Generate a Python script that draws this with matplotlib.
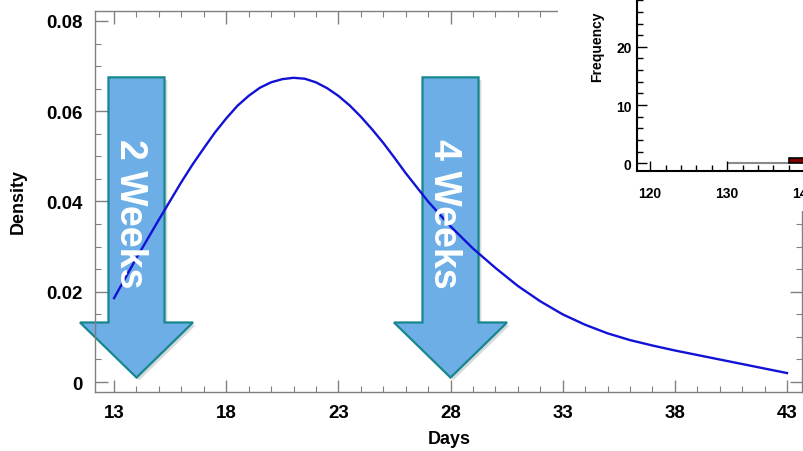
import numpy as np
import matplotlib
matplotlib.use("Agg")
import matplotlib.pyplot as plt
import matplotlib.patheffects as pe
from matplotlib.patches import Polygon, Rectangle
from matplotlib.ticker import MultipleLocator

# ---------------------------------------------------------------------------
# Data
# ---------------------------------------------------------------------------
days = [13, 14, 15, 16, 16.5, 17, 17.5, 18, 18.5, 19, 19.5, 20, 20.5, 21,
        21.5, 22, 22.5, 23, 23.5, 24, 24.5, 25, 25.5, 26, 27, 28,
        29, 30, 31, 32, 33, 34, 35, 36, 37, 38, 39, 40, 41, 42, 43]
density = [0.0186, 0.0275, 0.0360, 0.0443, 0.0482, 0.0518, 0.0553, 0.0584,
           0.0612, 0.0634, 0.0652, 0.0664, 0.0671, 0.0674, 0.0672, 0.0664,
           0.0651, 0.0634, 0.0613, 0.0588, 0.0560, 0.0530, 0.0497, 0.0463,
           0.0400, 0.0345, 0.0296, 0.0253, 0.0213, 0.0179, 0.0150, 0.0127,
           0.0108, 0.0093, 0.0081, 0.0070, 0.0060, 0.0050, 0.0040, 0.0030,
           0.0020]

x_ticks = [13, 18, 23, 28, 33, 38, 43]
y_ticks = [0, 0.02, 0.04, 0.06, 0.08]
y_tick_labels = ["0", "0.02", "0.04", "0.06", "0.08"]

arrow_days = [14, 28]
arrow_labels = ["2 Weeks", "4 Weeks"]

# inset histogram (only the visible part)
hist_edges = [130, 132, 134, 136, 138, 140]
hist_counts = [0, 0, 0, 0, 1, 4]
inset_x_ticks = [120, 130, 140]
inset_y_ticks = [0, 10, 20]

BOLD = "Liberation Sans"
GREY = "#808080"

fig = plt.figure(figsize=(8.04, 4.52), dpi=100)
fig.patch.set_facecolor("white")

# ---------------------------------------------------------------------------
# Main density plot
# ---------------------------------------------------------------------------
ax = fig.add_axes([95 / 804, 1 - 393 / 452, (802 - 95) / 804, (393 - 12) / 452])
ax.set_zorder(0)
ax.plot(days, density, color="#1212d6", lw=1.7, zorder=3,
        solid_joinstyle="round")

ax.set_xlim(12.15, 43.67)
ax.set_ylim(-0.0022, 0.0822)
ax.set_xticks(x_ticks)
ax.set_xticklabels([str(d) for d in x_ticks], fontfamily=BOLD,
                   fontweight="bold", fontsize=13.5)
ax.set_yticks(y_ticks)
ax.set_yticklabels(y_tick_labels, fontfamily=BOLD, fontweight="bold", fontsize=13.5)
ax.xaxis.set_minor_locator(MultipleLocator(1))
ax.yaxis.set_minor_locator(MultipleLocator(0.005))
ax.tick_params(which="both", direction="in", top=True, right=True, color=GREY)
ax.tick_params(which="major", length=9, width=1)
ax.tick_params(which="minor", length=4.5, width=0.8)
ax.tick_params(axis="y", pad=9)
ax.tick_params(axis="x", pad=9)
for s in ax.spines.values():
    s.set_color(GREY)
    s.set_linewidth(1)

ax.set_xlabel("Days", fontfamily=BOLD, fontweight="bold", fontsize=13)
ax.set_ylabel("Density", fontfamily=BOLD, fontweight="bold", fontsize=13)
ax.xaxis.set_label_coords(449 / 804, 1 - 440 / 452, transform=fig.transFigure)
ax.yaxis.set_label_coords(18 / 804, 1 - 202 / 452, transform=fig.transFigure)
ax.xaxis.label.set_va("center")
ax.yaxis.label.set_va("center")

# big "week" arrows
shaft_half, head_half = 1.25, 2.52
top_y, base_y, tip_y = 0.0675, 0.0132, 0.001
for d, lab in zip(arrow_days, arrow_labels):
    pts = [(d - shaft_half, top_y), (d + shaft_half, top_y),
           (d + shaft_half, base_y), (d + head_half, base_y),
           (d, tip_y), (d - head_half, base_y), (d - shaft_half, base_y)]
    poly = Polygon(pts, closed=True, facecolor="#6caee5", edgecolor="#17878e",
                   lw=1.6, zorder=2, clip_on=False,
                   path_effects=[pe.SimplePatchShadow(offset=(2, -2), alpha=0.18),
                                 pe.Normal()])
    ax.add_patch(poly)
    ax.text(d - 0.3, 0.0375, lab, rotation=-90, ha="center", va="center",
            color="white", fontfamily=BOLD, fontweight="bold", fontsize=27,
            zorder=4)

# white card behind the inset
fig.add_artist(Rectangle((558 / 804, 1 - 212 / 452), 1, 1, transform=fig.transFigure,
                         facecolor="white", edgecolor="none", zorder=1))

# ---------------------------------------------------------------------------
# Inset histogram (partly off the canvas)
# ---------------------------------------------------------------------------
ins = fig.add_axes([637 / 804, 1 - 172 / 452, 0.3, 0.5])
ins.set_zorder(2)
ins.patch.set_alpha(0)
for left, c in zip(hist_edges, hist_counts):
    if c == 0:
        ins.bar(left, c, width=2, align="edge", facecolor="none",
                edgecolor="#8a8a8a", lw=1.5)
    else:
        ins.bar(left, c, width=2, align="edge", facecolor="#800000",
                edgecolor="black", lw=1.2)
ins.set_xlim(118.3, 118.3 + 241 / 7.7)
ins.set_ylim(-1.3, -1.3 + 226 / 5.83)
ins.set_xticks(inset_x_ticks)
ins.set_yticks(inset_y_ticks)
ins.set_xticklabels([str(t) for t in inset_x_ticks], fontfamily=BOLD,
                    fontweight="bold", fontsize=10)
ins.set_yticklabels([str(t) for t in inset_y_ticks], fontfamily=BOLD,
                    fontweight="bold", fontsize=10)
ins.xaxis.set_minor_locator(MultipleLocator(2))
ins.yaxis.set_minor_locator(MultipleLocator(2))
ins.tick_params(which="both", direction="in", color="black")
ins.tick_params(which="major", length=7, width=1)
ins.tick_params(which="minor", length=4, width=1)
ins.tick_params(axis="y", pad=4)
ins.tick_params(axis="x", pad=11)
ins.spines["top"].set_visible(False)
ins.spines["right"].set_visible(False)
for s in ("left", "bottom"):
    ins.spines[s].set_linewidth(1.5)
ins.set_ylabel("Frequency", fontfamily=BOLD, fontweight="bold", fontsize=10)
ins.yaxis.set_label_coords(597 / 804, 1 - 47 / 452, transform=fig.transFigure)
ins.yaxis.label.set_va("center")

fig.savefig("out.png", dpi=100)
